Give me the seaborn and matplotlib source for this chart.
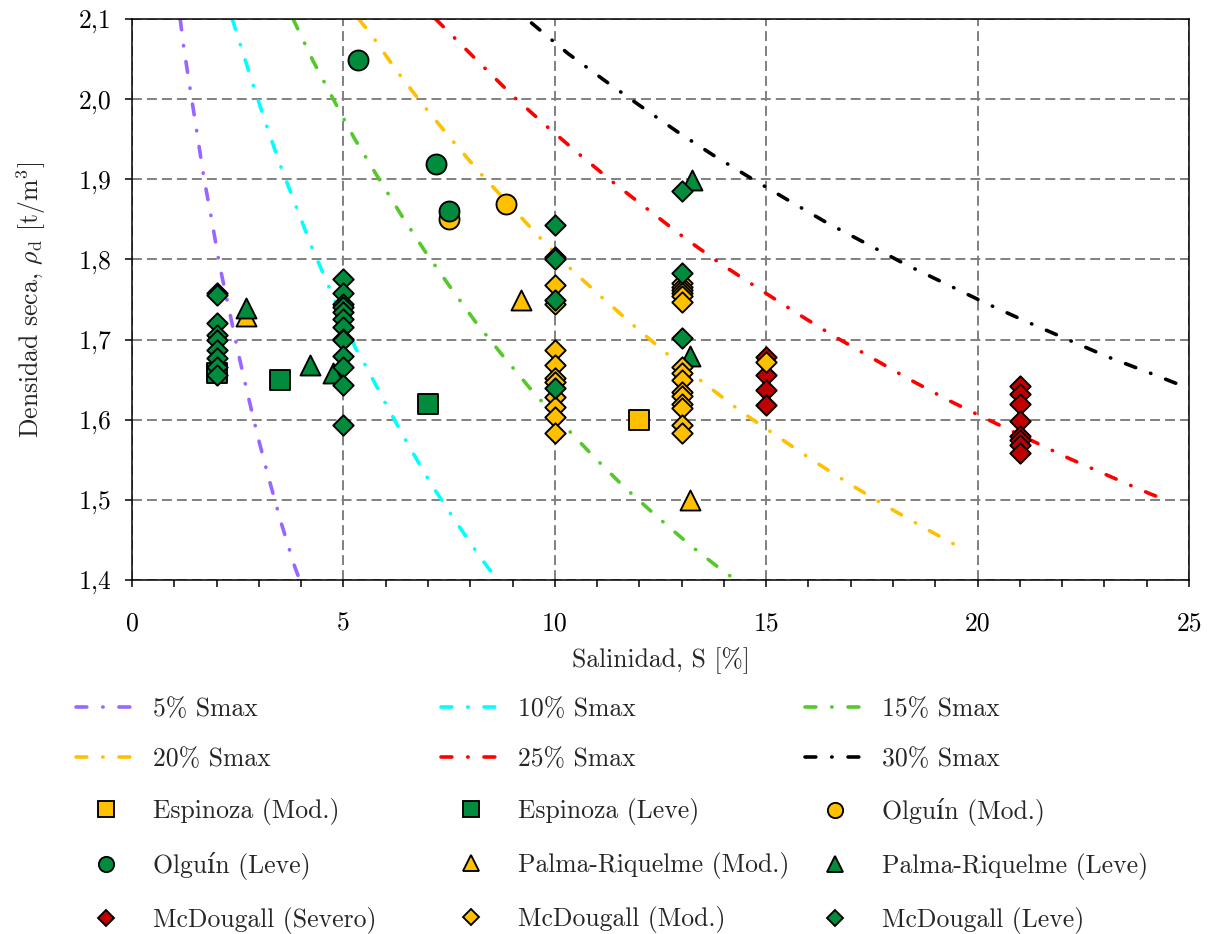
import matplotlib
matplotlib.use("Agg")
import numpy as np
import pandas as pd
import matplotlib.pyplot as plt
import seaborn as sns
from matplotlib.lines import Line2D
from matplotlib.ticker import MultipleLocator

# ============================================================
# Iso-salinity curves (fraction of Smax)
# ============================================================

s_05 = [1.14, 1.22, 1.38, 1.54, 1.70, 1.89, 2.07, 2.29, 2.51, 2.74, 2.98, 3.25, 3.53, 3.84, 3.98]
rho_05 = [2.100, 2.066, 2.011, 1.957, 1.902, 1.848, 1.793, 1.739, 1.684, 1.631, 1.578, 1.524, 1.471, 1.418, 1.398]

s_10 = [2.37, 2.51, 2.82, 3.15, 3.49, 3.86, 4.24, 4.46, 5.28, 5.54, 6.03, 6.53, 7.06, 7.63, 8.23, 8.64]
rho_10 = [2.100, 2.077, 2.025, 1.972, 1.920, 1.869, 1.817, 1.790, 1.690, 1.666, 1.617, 1.569, 1.521, 1.475, 1.429, 1.400]

s_15 = [3.81, 4.27, 4.76, 5.26, 5.80, 6.35, 6.92, 7.52, 8.14, 8.80, 9.48, 10.18, 10.90, 11.64, 12.42, 13.21, 14.03, 14.30]
rho_15 = [2.100, 2.049, 2.000, 1.951, 1.904, 1.857, 1.811, 1.766, 1.721, 1.678, 1.635, 1.595, 1.555, 1.516, 1.479, 1.443, 1.409, 1.400]

s_20 = [5.36, 5.64, 6.25, 6.88, 7.55, 8.23, 9.65, 10.38, 11.17, 11.94, 12.75, 13.57, 14.41, 15.27, 16.14, 17.00, 17.91, 18.81, 19.43]
rho_20 = [2.100, 2.082, 2.036, 1.993, 1.950, 1.908, 1.827, 1.788, 1.750, 1.714, 1.678, 1.644, 1.610, 1.579, 1.548, 1.519, 1.490, 1.463, 1.445]

s_25 = [7.18, 7.56, 8.30, 9.05, 9.83, 10.63, 11.43, 12.26, 13.09, 13.94, 14.81, 15.69, 16.58, 17.47, 18.40, 19.32, 20.25, 21.20, 22.15, 23.10, 24.06, 24.54]
rho_25 = [2.100, 2.080, 2.041, 2.002, 1.965, 1.929, 1.894, 1.860, 1.826, 1.794, 1.764, 1.734, 1.705, 1.678, 1.650, 1.624, 1.600, 1.576, 1.552, 1.530, 1.508, 1.498]

s_30 = [9.45, 10.31, 11.16, 12.01, 12.88, 13.75, 14.65, 15.55, 16.46, 17.36, 18.29, 19.23, 20.17, 21.13, 22.09, 23.05, 24.04, 25.00]
rho_30 = [2.095, 2.057, 2.024, 1.992, 1.960, 1.930, 1.901, 1.873, 1.845, 1.820, 1.794, 1.770, 1.746, 1.723, 1.701, 1.679, 1.659, 1.639]

# ============================================================
# Measured points
# ============================================================

espinoza_mod_s = [12.0]
espinoza_mod_rho = [1.60]
espinoza_leve_s = [2.0, 3.5, 7.0]
espinoza_leve_rho = [1.658, 1.650, 1.620]

olguin_mod_s = [7.5, 8.85]
olguin_mod_rho = [1.850, 1.869]
olguin_leve_s = [5.35, 7.2, 7.5]
olguin_leve_rho = [2.049, 1.919, 1.860]

palma_mod_s = [2.7, 9.2, 13.2]
palma_mod_rho = [1.730, 1.750, 1.500]
palma_leve_s = [2.7, 4.2, 4.75, 13.25, 13.2]
palma_leve_rho = [1.740, 1.668, 1.658, 1.899, 1.680]

mcd_severo_s = [15, 15, 15, 15, 21, 21, 21, 21, 21, 21, 21, 21]
mcd_severo_rho = [1.678, 1.656, 1.637, 1.618, 1.642, 1.632, 1.620, 1.598, 1.580, 1.575, 1.568, 1.558]

mcd_mod_s = [10] * 10 + [13] * 15 + [15]
mcd_mod_rho = [1.768, 1.745, 1.687, 1.668, 1.652, 1.647, 1.628, 1.616, 1.604, 1.583,
               1.770, 1.766, 1.762, 1.758, 1.754, 1.747, 1.666, 1.658, 1.650, 1.635,
               1.629, 1.620, 1.614, 1.593, 1.583,
               1.672]

mcd_leve_s = [2] * 9 + [5] * 13 + [10] * 5 + [13] * 3
mcd_leve_rho = [1.758, 1.755, 1.721, 1.706, 1.699, 1.687, 1.677, 1.666, 1.656,
                1.776, 1.758, 1.745, 1.741, 1.735, 1.726, 1.716, 1.701, 1.699, 1.679, 1.666, 1.643, 1.593,
                1.843, 1.803, 1.800, 1.749, 1.639,
                1.885, 1.783, 1.702]

x_ticks = [0, 5, 10, 15, 20, 25]
x_tick_labels = ["0", "5", "10", "15", "20", "25"]
y_ticks = [1.4, 1.5, 1.6, 1.7, 1.8, 1.9, 2.0, 2.1]
y_tick_labels = ["1,4", "1,5", "1,6", "1,7", "1,8", "1,9", "2,0", "2,1"]

# ============================================================
# Styling
# ============================================================

GREEN = "#008C3C"
YELLOW = "#FFC000"
DARKRED = "#C00000"

curves = [
    ("5% Smax", s_05, rho_05, "#9966FF"),
    ("10% Smax", s_10, rho_10, "#00FFFF"),
    ("15% Smax", s_15, rho_15, "#55C82A"),
    ("20% Smax", s_20, rho_20, "#FFC000"),
    ("25% Smax", s_25, rho_25, "#FF0000"),
    ("30% Smax", s_30, rho_30, "#000000"),
]

BIG = 14.4   # marker size (pt) for squares / circles / triangles
DIA = 10.4   # marker size (pt) for diamonds

series = [
    ("Espinoza (Mod.)", espinoza_mod_s, espinoza_mod_rho, "s", YELLOW, BIG),
    ("Espinoza (Leve)", espinoza_leve_s, espinoza_leve_rho, "s", GREEN, BIG),
    ("Olguín (Mod.)", olguin_mod_s, olguin_mod_rho, "o", YELLOW, BIG),
    ("Olguín (Leve)", olguin_leve_s, olguin_leve_rho, "o", GREEN, BIG),
    ("Palma-Riquelme (Mod.)", palma_mod_s, palma_mod_rho, "^", YELLOW, BIG),
    ("Palma-Riquelme (Leve)", palma_leve_s, palma_leve_rho, "^", GREEN, BIG),
    ("McDougall (Severo)", mcd_severo_s, mcd_severo_rho, "D", DARKRED, DIA),
    ("McDougall (Mod.)", mcd_mod_s, mcd_mod_rho, "D", YELLOW, DIA),
    ("McDougall (Leve)", mcd_leve_s, mcd_leve_rho, "D", GREEN, DIA),
]

FS = 18.5
LW = 2.6
EDGE = 1.35
DASHDOT = (0, (3.0, 4.4, 0.1, 4.4))

sns.set_style("ticks")
plt.rcParams["font.family"] = ["cmr10", "DejaVu Serif"]
plt.rcParams["mathtext.fontset"] = "cm"
plt.rcParams["axes.unicode_minus"] = False
plt.rcParams["font.size"] = FS

fig, ax = plt.subplots(figsize=(12.16, 9.34), dpi=100)
fig.subplots_adjust(left=132 / 1216, right=1189 / 1216, top=1 - 19 / 934, bottom=1 - 580 / 934)

# Curves
for label, xs, ys, col in curves:
    sns.lineplot(x=xs, y=ys, ax=ax, color=col, linewidth=LW, linestyle=DASHDOT,
                 dash_capstyle="round", estimator=None, sort=False, zorder=2)

# Points (drawn top-to-bottom so that lower markers sit on top)
for label, xs, ys, mk, col, ms in series:
    df = pd.DataFrame({"S": xs, "rho": ys}).sort_values(["S", "rho"], ascending=[True, False])
    sns.scatterplot(data=df, x="S", y="rho", ax=ax, marker=mk, s=ms ** 2, color=col,
                    edgecolor="black", linewidth=EDGE, zorder=3, legend=False)

ax.set_xlim(0, 25)
ax.set_ylim(1.4, 2.1)
ax.set_xticks(x_ticks, labels=x_tick_labels)
ax.set_yticks(y_ticks, labels=y_tick_labels)
ax.xaxis.set_minor_locator(MultipleLocator(1))
ax.tick_params(which="both", direction="out", length=5, width=1.1, colors="black", labelsize=FS)
ax.tick_params(axis="x", pad=18)
ax.tick_params(axis="y", pad=10)

ax.grid(True, which="major", color="#808080", linestyle=(0, (5.1, 2.6)), linewidth=1.4)
ax.set_axisbelow(True)
for sp in ax.spines.values():
    sp.set_visible(True)
    sp.set_color("black")
    sp.set_linewidth(1.1)

ax.set_xlabel("Salinidad, S [%]", fontsize=FS, labelpad=8)
ax.set_ylabel(r"Densidad seca, $\rho_\mathrm{d}$ [t/m$^3$]", fontsize=FS, labelpad=22)

# ============================================================
# Legend: 3 fixed-width columns, filled row by row
# ============================================================

line_handles = [Line2D([], [], color=c, linewidth=LW, linestyle=DASHDOT, dash_capstyle="round")
                for _, _, _, c in curves]
line_labels = [l for l, _, _, _ in curves]
mark_handles = [Line2D([], [], linestyle="none", marker=mk, markersize=(11.0 if mk != "D" else 8.0),
                       markerfacecolor=col, markeredgecolor="black", markeredgewidth=EDGE)
                for _, _, _, mk, col, _ in series]
mark_labels = [l for l, _, _, _, _, _ in series]

handles = line_handles + mark_handles
labels = line_labels + mark_labels

col_x = [76 / 1216, 441 / 1216, 805 / 1216]
top_y = 1 - 697 / 934
legends = []
for c in range(3):
    h = handles[c::3]
    l = labels[c::3]
    leg = ax.legend(h, l, loc="upper left", bbox_to_anchor=(col_x[c], top_y),
                    bbox_transform=fig.transFigure, frameon=False, borderpad=0,
                    borderaxespad=0, handlelength=2.3, handletextpad=0.7,
                    labelspacing=1.05, fontsize=FS)
    legends.append(leg)
for leg in legends[:-1]:
    ax.add_artist(leg)

fig.savefig("out.png", dpi=100)
